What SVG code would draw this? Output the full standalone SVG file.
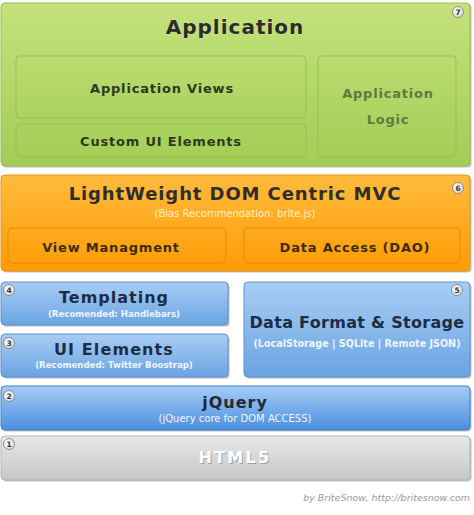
<svg xmlns="http://www.w3.org/2000/svg" width="474" height="515" viewBox="0 0 474 515">
<defs>
<linearGradient id="gGreen" x1="0" y1="0" x2="0" y2="1"><stop offset="0" stop-color="#c5e27c"/><stop offset="1" stop-color="#a2cd56"/></linearGradient>
<linearGradient id="gOrange" x1="0" y1="0" x2="0" y2="1"><stop offset="0" stop-color="#ffbb3c"/><stop offset="1" stop-color="#ff9c05"/></linearGradient>
<linearGradient id="gBlueL" x1="0" y1="0" x2="0" y2="1"><stop offset="0" stop-color="#a9cdf4"/><stop offset="1" stop-color="#6aa4e2"/></linearGradient>
<linearGradient id="gBlue" x1="0" y1="0" x2="0" y2="1"><stop offset="0" stop-color="#a6cbf5"/><stop offset="1" stop-color="#4b8fde"/></linearGradient>
<linearGradient id="gGray" x1="0" y1="0" x2="0" y2="1"><stop offset="0" stop-color="#e8e8e8"/><stop offset="1" stop-color="#c6c6c6"/></linearGradient>
<radialGradient id="gNum" cx="0.4" cy="0.35" r="0.7"><stop offset="0" stop-color="#ffffff"/><stop offset="1" stop-color="#d8d8d8"/></radialGradient>
</defs>
<style>
.sh{fill:#8a8a8a;opacity:0.55}
.inner{fill:none;stroke-width:1}
.t{font-family:"DejaVu Sans",Verdana,sans-serif;font-weight:bold;text-anchor:middle}
.s{font-family:"DejaVu Sans",Verdana,sans-serif;text-anchor:middle}
.num circle{fill:url(#gNum);stroke:#7a7a7a;stroke-width:0.8}
.num text{font-family:"DejaVu Sans",Verdana,sans-serif;font-weight:bold;font-size:7.5px;fill:#333;text-anchor:middle}
</style>
<rect width="474" height="515" fill="#ffffff"/>

<g id="application">
<rect class="sh" x="2.5" y="4.5" width="469" height="163" rx="4"/>
<rect x="1" y="3" width="469" height="163" rx="4" fill="url(#gGreen)" stroke="#98c04f" stroke-width="1"/>
<text class="t" x="235" y="34" font-size="20" letter-spacing="1" fill="#2b2b2b" stroke="#e4f3c0" stroke-width="0.4" paint-order="stroke">Application</text>
<g id="app-views">
<rect class="inner" x="16" y="56" width="290" height="62" rx="4" stroke="#98bf55"/>
<text class="t" x="162" y="93" font-size="13" letter-spacing="0.8" fill="#2e3820">Application Views</text>
</g>
<g id="custom-ui">
<rect class="inner" x="16" y="124" width="290" height="33" rx="4" stroke="#98bf55"/>
<text class="t" x="161" y="146" font-size="13" letter-spacing="0.8" fill="#2e3820">Custom UI Elements</text>
</g>
<g id="app-logic">
<rect class="inner" x="318" y="56" width="138" height="101" rx="4" stroke="#98bf55"/>
<text class="t" x="388" y="98" font-size="13" letter-spacing="0.8" fill="#60793c">Application</text>
<text class="t" x="388" y="124" font-size="13" letter-spacing="0.8" fill="#60793c">Logic</text>
</g>
<g class="num"><circle cx="458" cy="12" r="5.5"/><text x="458" y="14.8">7</text></g>
</g>

<g id="mvc">
<rect class="sh" x="2.5" y="176.5" width="469" height="96" rx="4"/>
<rect x="1" y="175" width="469" height="96" rx="4" fill="url(#gOrange)" stroke="#ec9410" stroke-width="1"/>
<text class="t" x="235" y="200" font-size="18" letter-spacing="0.9" fill="#2e2e2e">LightWeight DOM Centric MVC</text>
<text class="s" x="235" y="217" font-size="10" fill="#fff0cc">(Bias Recommendation: brite.js)</text>
<g id="view-mgmt">
<rect class="inner" x="8" y="228" width="218" height="35" rx="4" stroke="#e28a0c"/>
<text class="t" x="111" y="252" font-size="13" letter-spacing="0.8" fill="#3a2c12">View Managment</text>
</g>
<g id="dao">
<rect class="inner" x="244" y="228" width="216" height="35" rx="4" stroke="#e28a0c"/>
<text class="t" x="355" y="252" font-size="13" letter-spacing="0.8" fill="#3a2c12">Data Access (DAO)</text>
</g>
<g class="num"><circle cx="458" cy="188" r="5.5"/><text x="458" y="190.8">6</text></g>
</g>

<g id="templating">
<rect class="sh" x="2.5" y="283.5" width="227" height="43" rx="4"/>
<rect x="1" y="282" width="227" height="43" rx="4" fill="url(#gBlueL)" stroke="#5d93d0" stroke-width="1"/>
<text class="t" x="114" y="303" font-size="16" letter-spacing="1" fill="#1e2c44">Templating</text>
<text class="t" x="114" y="317" font-size="8.6" fill="#eef5ff">(Recomended: Handlebars)</text>
<g class="num"><circle cx="9" cy="290" r="5.5"/><text x="9" y="292.8">4</text></g>
</g>

<g id="ui-elements">
<rect class="sh" x="2.5" y="335.5" width="227" height="43" rx="4"/>
<rect x="1" y="334" width="227" height="43" rx="4" fill="url(#gBlueL)" stroke="#5d93d0" stroke-width="1"/>
<text class="t" x="114" y="355" font-size="16" letter-spacing="1.1" fill="#1e2c44">UI Elements</text>
<text class="t" x="114" y="368" font-size="8.6" fill="#eef5ff">(Recomended: Twitter Boostrap)</text>
<g class="num"><circle cx="9" cy="343" r="5.5"/><text x="9" y="345.8">3</text></g>
</g>

<g id="data-format">
<rect class="sh" x="245.5" y="283.5" width="226" height="95" rx="4"/>
<rect x="244" y="282" width="226" height="95" rx="4" fill="url(#gBlueL)" stroke="#5d93d0" stroke-width="1"/>
<text class="t" x="357" y="328" font-size="16" letter-spacing="0.3" fill="#1e2c44">Data Format &amp; Storage</text>
<text class="t" x="357" y="347" font-size="9.6" fill="#eef5ff">(LocalStorage | SQLite | Remote JSON)</text>
<g class="num"><circle cx="457" cy="290" r="5.5"/><text x="457" y="292.8">5</text></g>
</g>

<g id="jquery">
<rect class="sh" x="2.5" y="387.5" width="469" height="44" rx="4"/>
<rect x="1" y="386" width="469" height="44" rx="4" fill="url(#gBlue)" stroke="#3f80cc" stroke-width="1"/>
<text class="t" x="235" y="408" font-size="16" letter-spacing="1" fill="#222a33">jQuery</text>
<text class="s" x="235" y="422" font-size="10" fill="#eef5ff">(jQuery core for DOM ACCESS)</text>
<g class="num"><circle cx="9" cy="396" r="5.5"/><text x="9" y="398.8">2</text></g>
</g>

<g id="html5">
<rect class="sh" x="2.5" y="437.5" width="469" height="44" rx="4"/>
<rect x="1" y="436" width="469" height="44" rx="4" fill="url(#gGray)" stroke="#b4b4b4" stroke-width="1"/>
<text class="t" x="236" y="464" font-size="16" letter-spacing="2.3" fill="#8a8a8a" opacity="0.7">HTML5</text>
<text class="t" x="235" y="463" font-size="16" letter-spacing="2.3" fill="#ffffff">HTML5</text>
<g class="num"><circle cx="9" cy="444" r="5.5"/><text x="9" y="446.8">1</text></g>
</g>

<g id="connectors"></g>

<text x="470" y="501" font-family="'DejaVu Sans',Verdana,sans-serif" font-style="italic" font-size="9.5" fill="#9a9a9a" text-anchor="end">by BriteSnow, http://britesnow.com</text>
</svg>
